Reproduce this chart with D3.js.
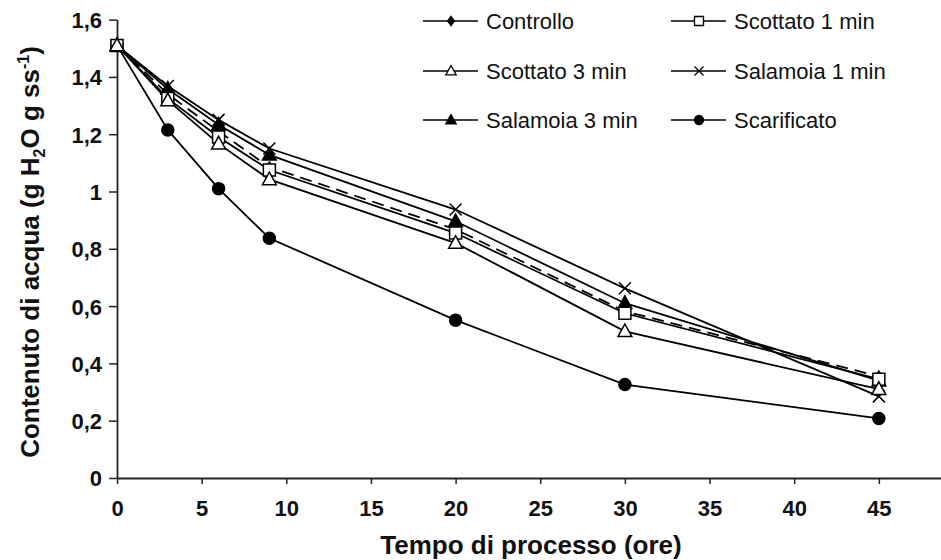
<!DOCTYPE html>
<html>
<head>
<meta charset="utf-8">
<script src="https://cdn.jsdelivr.net/npm/d3@7"></script>
<style>
  html, body { margin: 0; padding: 0; background: #fff; }
  svg { display: block; font-family: "Liberation Sans", Arial, sans-serif; }
</style>
</head>
<body>
<svg id="chart" width="941" height="560"></svg>
<script>
// ---- data ----
const hours = [0, 3, 6, 9, 20, 30, 45];
const controllo     = [1.51, 1.34, 1.21, 1.085, 0.868, 0.582, 0.355];
const scottato1     = [1.51, 1.325, 1.19, 1.075, 0.855, 0.575, 0.345];
const scottato3     = [1.51, 1.318, 1.167, 1.042, 0.82, 0.512, 0.31];
const salamoia1     = [1.51, 1.368, 1.25, 1.15, 0.937, 0.662, 0.285];
const salamoia3     = [1.51, 1.358, 1.233, 1.128, 0.896, 0.61, 0.34];
const scarificato   = [1.51, 1.215, 1.01, 0.837, 0.551, 0.326, 0.208];
const seriesNames   = ["Controllo", "Scottato 1 min", "Scottato 3 min", "Salamoia 1 min", "Salamoia 3 min", "Scarificato"];
const xTicks = [0, 5, 10, 15, 20, 25, 30, 35, 40, 45];
const yTicks = [0, 0.2, 0.4, 0.6, 0.8, 1, 1.2, 1.4, 1.6];
const xTitle = "Tempo di processo (ore)";

const seriesValues = [controllo, scottato1, scottato3, salamoia1, salamoia3, scarificato];
const seriesMarker = ["diamond", "square", "triangleOpen", "times", "triangleFilled", "circle"];
const seriesDash   = ["12,7", null, null, null, null, null];

const svg = d3.select("#chart");
const x = d3.scaleLinear().domain([0, 50]).range([117, 117 + 50 * 16.93]);
const y = d3.scaleLinear().domain([0, 1.6]).range([478, 19.6]);

// custom marker paths
function markerPath(kind, s) {
  const h = s / 2;
  switch (kind) {
    case "diamond": return `M0,${-h*1.15}L${h*0.85},0L0,${h*1.15}L${-h*0.85},0Z`;
    case "square": return `M${-h},${-h}H${h}V${h}H${-h}Z`;
    case "triangleOpen":
    case "triangleFilled": {
      const t = s * 1.05;
      return `M0,${-t*0.58}L${t*0.55},${t*0.42}L${-t*0.55},${t*0.42}Z`;
    }
    case "times": return `M${-h},${-h}L${h},${h}M${h},${-h}L${-h},${h}`;
    case "circle": return d3.arc()({innerRadius: 0, outerRadius: h, startAngle: 0, endAngle: 2 * Math.PI});
  }
}
function markerFill(kind) {
  if (kind === "diamond" || kind === "triangleFilled" || kind === "circle") return "#000";
  if (kind === "times") return "none";
  return "#fff";
}

// axes
const xAxis = d3.axisBottom(x).tickValues(xTicks).tickSize(6).tickSizeOuter(0).tickFormat(d => String(d));
const gx = svg.append("g").attr("transform", `translate(0,${y(0)})`).call(xAxis);
gx.select(".domain").attr("stroke", "#222").attr("stroke-width", 1.8);
gx.selectAll(".tick line").attr("stroke", "#222").attr("stroke-width", 1.5);
gx.selectAll(".tick text").attr("font-size", 22).attr("font-weight", "bold")
  .attr("font-family", "Liberation Sans, Arial, sans-serif").attr("fill", "#111").attr("dy", "0").attr("y", 38);

const yFmt = d => d === 0 ? "0" : (Number.isInteger(d) ? String(d) : d.toFixed(1).replace(".", ","));
const yAxis = d3.axisLeft(y).tickValues(yTicks).tickSize(8).tickSizeOuter(0).tickFormat(yFmt);
const gy = svg.append("g").attr("transform", `translate(${x(0)},0)`).call(yAxis);
gy.select(".domain").attr("stroke", "#222").attr("stroke-width", 1.8);
gy.selectAll(".tick line").attr("stroke", "#222").attr("stroke-width", 1.5);
gy.selectAll(".tick text").attr("font-size", 22).attr("font-weight", "bold")
  .attr("font-family", "Liberation Sans, Arial, sans-serif").attr("fill", "#111").attr("x", -15).attr("dy", "0.36em");

// axis titles
svg.append("text").attr("x", 531).attr("y", 554).attr("text-anchor", "middle")
  .attr("font-size", 26).attr("font-weight", "bold").attr("fill", "#111").text(xTitle);

const yt = svg.append("text").attr("transform", "translate(39,252) rotate(-90)")
  .attr("text-anchor", "middle").attr("font-size", 26).attr("font-weight", "bold").attr("fill", "#111");
yt.append("tspan").text("Contenuto di acqua (g H");
yt.append("tspan").attr("font-size", 16).attr("dy", 6).text("2");
yt.append("tspan").attr("dy", -6).text("O g ss");
yt.append("tspan").attr("font-size", 16).attr("dy", -10).text("-1");
yt.append("tspan").attr("dy", 10).text(")");

// lines
const line = d3.line().x((d, i) => x(hours[i])).y(d => y(d));
const plot = svg.append("g");
seriesValues.forEach((vals, si) => {
  plot.append("path").datum(vals).attr("d", line)
    .attr("fill", "none").attr("stroke", "#000").attr("stroke-width", 1.8)
    .attr("stroke-dasharray", seriesDash[si]);
});
// markers
const drawOrder = [0, 5, 3, 4, 1, 2];
drawOrder.forEach(si => {
  const kind = seriesMarker[si];
  const size = kind === "circle" ? 12 : (kind === "diamond" ? 9 : 12);
  plot.selectAll(null).data(seriesValues[si]).enter().append("path")
    .attr("transform", (d, i) => `translate(${x(hours[i])},${y(d)})`)
    .attr("d", markerPath(kind, size))
    .attr("fill", markerFill(kind)).attr("stroke", "#000").attr("stroke-width", 1.5);
});

// legend
const legendPos = [[423, 21], [671, 21], [423, 71], [671, 71], [423, 120], [671, 120]];
const leg = svg.append("g");
seriesNames.forEach((name, si) => {
  const [lx, ly] = legendPos[si];
  leg.append("line").attr("x1", lx).attr("x2", lx + 55).attr("y1", ly).attr("y2", ly)
    .attr("stroke", "#000").attr("stroke-width", 1.6);
  const kind = seriesMarker[si];
  leg.append("path").attr("transform", `translate(${lx + 28},${ly})`)
    .attr("d", markerPath(kind, kind === "diamond" ? 8 : 9))
    .attr("fill", markerFill(kind)).attr("stroke", "#000").attr("stroke-width", 1.3);
  leg.append("text").attr("x", lx + 63).attr("y", ly).attr("dy", "0.36em")
    .attr("font-size", 22).attr("fill", "#111").text(name);
});
</script>
</body>
</html>
